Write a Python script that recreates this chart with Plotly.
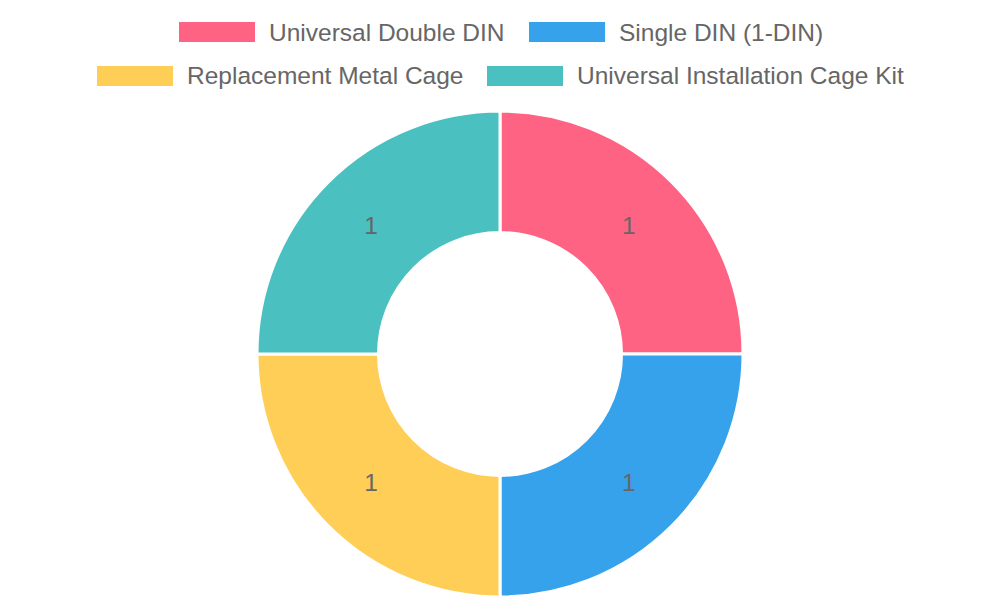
import plotly.graph_objects as go

# chart data
categories = [
    "Universal Double DIN",
    "Single DIN (1-DIN)",
    "Replacement Metal Cage",
    "Universal Installation Cage Kit",
]
counts = [1, 1, 1, 1]
colors = ["#FF6384", "#36A2EB", "#FFCE56", "#4BC0C0"]

# page positions measured on the reference; the html body adds an 8px margin
W, H = 1000, 600
OFF = 8
legend_x = [179, 529, 97, 487]
legend_y = [32, 32, 76, 76]
BOX_W, BOX_H = 76, 20
TEXT_GAP = 12
CX, CY, R = 500, 354, 243
FONT = dict(color="#666666", size=24.5, family="Liberation Sans")


def px(x):
    return (x - OFF) / W


def py(y):
    return (H - (y - OFF)) / H


fig = go.Figure()
fig.add_trace(
    go.Pie(
        labels=categories,
        values=counts,
        marker=dict(colors=colors, line=dict(color="white", width=3)),
        hole=0.5,
        sort=False,
        direction="clockwise",
        rotation=0,
        textinfo="value",
        textposition="inside",
        insidetextorientation="horizontal",
        textfont=FONT,
        hoverinfo="label+value",
        showlegend=False,
        domain=dict(x=[px(CX - R), px(CX + R)], y=[py(CY + R), py(CY - R)]),
    )
)

# hand-made legend so swatches are wide boxes like the original
for name, col, lx, ly in zip(categories, colors, legend_x, legend_y):
    fig.add_shape(
        type="rect",
        xref="paper",
        yref="paper",
        x0=px(lx),
        x1=px(lx + BOX_W),
        y0=py(ly + BOX_H / 2),
        y1=py(ly - BOX_H / 2),
        fillcolor=col,
        line=dict(width=0),
    )
    fig.add_annotation(
        text=name,
        xref="paper",
        yref="paper",
        x=px(lx + BOX_W + TEXT_GAP),
        y=py(ly),
        xanchor="left",
        yanchor="middle",
        showarrow=False,
        font=FONT,
    )

fig.update_layout(
    width=W,
    height=H,
    margin=dict(l=0, r=0, t=0, b=0),
    paper_bgcolor="white",
    plot_bgcolor="white",
)

fig.write_html("out.html")
